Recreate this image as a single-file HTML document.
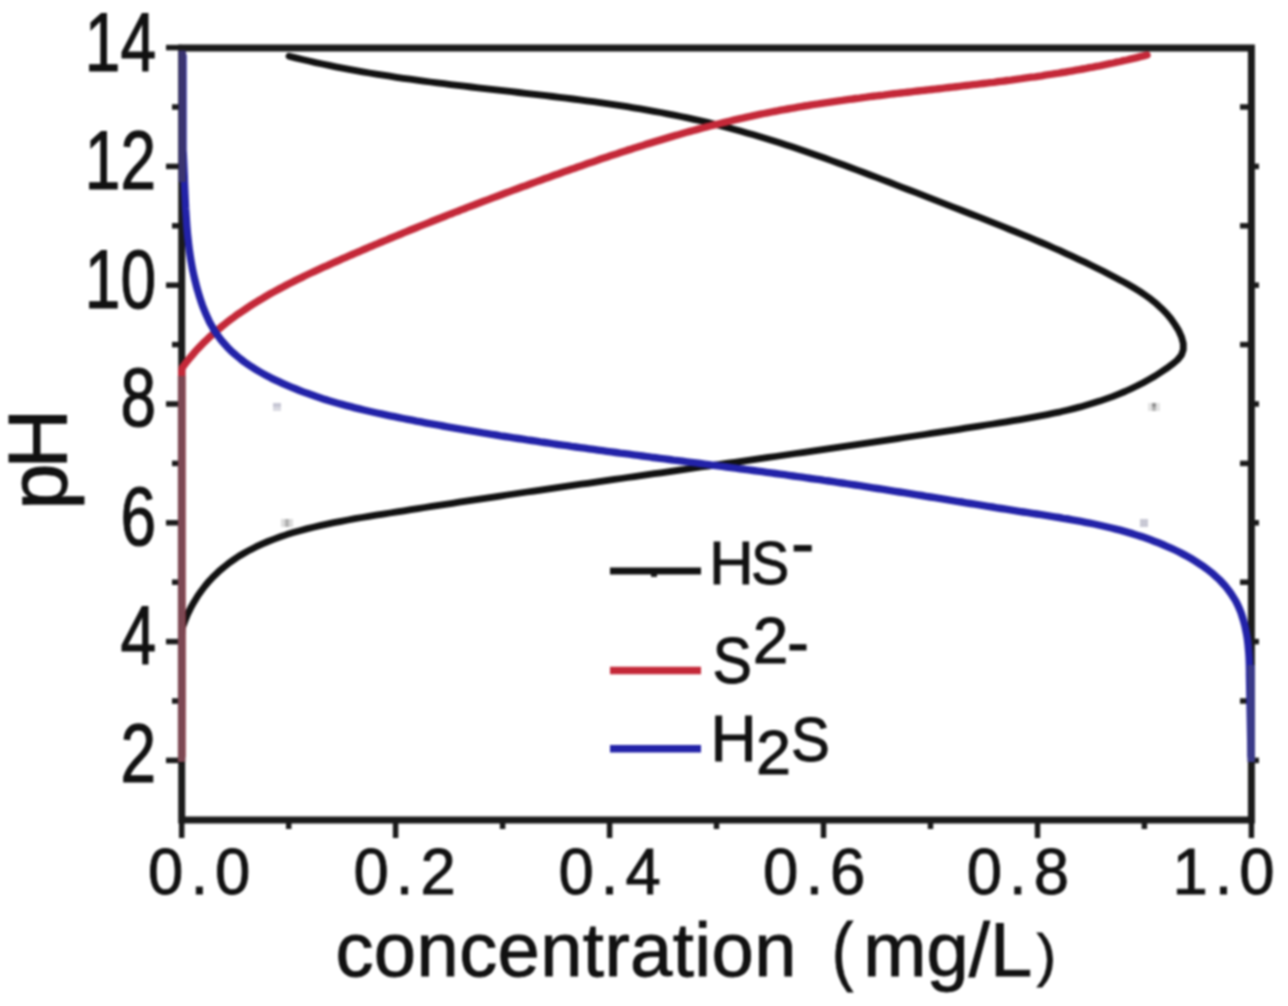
<!DOCTYPE html>
<html><head><meta charset="utf-8"><title>pH vs concentration</title>
<style>
html,body{margin:0;padding:0;background:#fff;}
body{width:1288px;height:1006px;overflow:hidden;}
svg{display:block;filter:blur(0.9px);}
text{font-family:'Liberation Sans', Arial, sans-serif;fill:#111;stroke:#111;stroke-width:0.9px;}
</style></head>
<body>
<svg width="1288" height="1006" viewBox="0 0 1288 1006">
<rect x="0" y="0" width="1288" height="1006" fill="#fff"/>
<g stroke="#1a1a1a" stroke-width="7" fill="none">
<rect x="181.7" y="48" width="1069.7" height="772"/>
</g>
<g stroke="#1a1a1a" stroke-width="5.5" fill="none">
<line x1="166.0" y1="760.4" x2="182.0" y2="760.4"/><line x1="172.0" y1="701.0" x2="182.0" y2="701.0"/><line x1="166.0" y1="641.6" x2="182.0" y2="641.6"/><line x1="172.0" y1="582.2" x2="182.0" y2="582.2"/><line x1="166.0" y1="522.8" x2="182.0" y2="522.8"/><line x1="172.0" y1="463.4" x2="182.0" y2="463.4"/><line x1="166.0" y1="404.0" x2="182.0" y2="404.0"/><line x1="172.0" y1="344.6" x2="182.0" y2="344.6"/><line x1="166.0" y1="285.2" x2="182.0" y2="285.2"/><line x1="172.0" y1="225.8" x2="182.0" y2="225.8"/><line x1="166.0" y1="166.4" x2="182.0" y2="166.4"/><line x1="172.0" y1="107.0" x2="182.0" y2="107.0"/><line x1="166.0" y1="47.6" x2="182.0" y2="47.6"/><line x1="181.7" y1="820.0" x2="181.7" y2="838.0"/><line x1="288.7" y1="820.0" x2="288.7" y2="829.0"/><line x1="395.6" y1="820.0" x2="395.6" y2="838.0"/><line x1="502.6" y1="820.0" x2="502.6" y2="829.0"/><line x1="609.6" y1="820.0" x2="609.6" y2="838.0"/><line x1="716.5" y1="820.0" x2="716.5" y2="829.0"/><line x1="823.5" y1="820.0" x2="823.5" y2="838.0"/><line x1="930.5" y1="820.0" x2="930.5" y2="829.0"/><line x1="1037.5" y1="820.0" x2="1037.5" y2="838.0"/><line x1="1144.4" y1="820.0" x2="1144.4" y2="829.0"/><line x1="1251.4" y1="820.0" x2="1251.4" y2="838.0"/><line x1="1251.0" y1="760.4" x2="1259.0" y2="760.4"/><line x1="1240.0" y1="701.0" x2="1251.0" y2="701.0"/><line x1="1251.0" y1="641.6" x2="1259.0" y2="641.6"/><line x1="1240.0" y1="582.2" x2="1251.0" y2="582.2"/><line x1="1251.0" y1="522.8" x2="1259.0" y2="522.8"/><line x1="1240.0" y1="463.4" x2="1251.0" y2="463.4"/><line x1="1251.0" y1="404.0" x2="1259.0" y2="404.0"/><line x1="1240.0" y1="344.6" x2="1251.0" y2="344.6"/><line x1="1251.0" y1="285.2" x2="1259.0" y2="285.2"/><line x1="1240.0" y1="225.8" x2="1251.0" y2="225.8"/><line x1="1251.0" y1="166.4" x2="1259.0" y2="166.4"/><line x1="1240.0" y1="107.0" x2="1251.0" y2="107.0"/>
</g>
<g fill="none" stroke-width="6.8" stroke-linejoin="round" stroke-linecap="round">
<path d="M289.0,56.2 295.6,57.9 302.3,59.5 309.0,61.0 315.7,62.6 322.4,64.0 329.1,65.4 335.8,66.8 342.5,68.1 349.2,69.4 356.0,70.6 362.7,71.8 369.5,73.0 376.2,74.1 383.0,75.2 389.7,76.2 396.5,77.3 403.3,78.3 410.1,79.2 416.8,80.2 423.6,81.1 430.4,82.0 437.2,82.9 444.0,83.7 450.8,84.6 457.6,85.4 464.4,86.2 471.2,87.0 478.0,87.8 484.8,88.6 491.6,89.4 498.4,90.2 505.2,90.9 512.0,91.7 518.8,92.5 525.6,93.3 532.4,94.1 539.2,94.9 545.9,95.7 552.7,96.5 559.5,97.3 566.3,98.2 573.1,99.0 579.8,99.9 586.6,100.8 593.4,101.7 600.1,102.7 606.9,103.6 613.6,104.6 620.4,105.7 627.1,106.7 633.8,107.8 640.6,108.9 647.3,110.1 654.0,111.3 660.7,112.5 667.4,113.8 674.1,115.1 680.7,116.5 687.4,117.9 694.0,119.3 700.7,120.8 707.3,122.4 713.9,124.0 720.6,125.7 727.2,127.4 733.8,129.2 740.3,131.0 746.9,132.9 753.5,134.8 760.0,136.7 766.6,138.7 773.1,140.8 779.6,142.8 786.2,145.0 792.7,147.1 799.2,149.3 805.7,151.5 812.1,153.7 818.6,156.0 825.1,158.3 831.5,160.6 838.0,163.0 844.4,165.3 850.9,167.7 857.3,170.1 863.7,172.5 870.1,175.0 876.6,177.4 883.0,179.9 889.4,182.3 895.8,184.8 902.1,187.3 908.5,189.7 914.9,192.2 921.3,194.7 927.6,197.2 934.0,199.7 940.4,202.1 946.7,204.6 953.1,207.1 959.4,209.5 965.7,212.0 972.1,214.5 978.4,216.9 984.7,219.4 991.0,221.9 997.3,224.4 1003.6,226.9 1009.9,229.5 1016.2,232.0 1022.5,234.6 1028.7,237.2 1035.0,239.9 1041.3,242.5 1047.5,245.2 1053.7,248.0 1060.0,250.7 1066.2,253.6 1072.4,256.4 1078.6,259.3 1084.8,262.2 1091.0,265.2 1097.1,268.3 1103.3,271.3 1109.4,274.5 1115.6,277.7 1121.7,280.9 1127.8,284.3 1133.8,287.8 1139.7,291.4 1145.4,295.3 1151.0,299.3 1156.4,303.7 1161.5,308.4 1166.4,313.4 1170.9,318.8 1175.0,324.6 1178.8,330.8 1181.6,337.2 1183.3,343.6 1183.3,349.6 1181.4,355.1 1177.4,360.0 1172.2,364.3 1166.6,368.4 1160.8,372.3 1155.1,376.0 1149.2,379.4 1143.2,382.7 1137.2,385.8 1131.1,388.7 1125.0,391.5 1118.7,394.1 1112.5,396.6 1106.1,398.9 1099.7,401.1 1093.3,403.1 1086.8,405.0 1080.3,406.9 1073.7,408.6 1067.1,410.2 1060.5,411.8 1053.8,413.2 1047.1,414.6 1040.3,415.9 1033.6,417.2 1026.8,418.4 1020.0,419.6 1013.2,420.7 1006.4,421.8 999.6,422.9 992.8,424.0 986.0,425.0 979.2,426.1 972.3,427.1 965.5,428.2 958.7,429.3 951.9,430.3 945.1,431.3 938.3,432.4 931.4,433.4 924.6,434.5 917.8,435.5 911.0,436.5 904.2,437.5 897.4,438.6 890.6,439.6 883.8,440.6 877.0,441.6 870.2,442.6 863.4,443.6 856.6,444.6 849.8,445.6 843.0,446.6 836.2,447.6 829.4,448.6 822.6,449.6 815.8,450.6 809.1,451.6 802.3,452.6 795.5,453.5 788.8,454.5 782.0,455.5 775.2,456.5 768.5,457.4 761.7,458.4 755.0,459.4 748.3,460.3 741.5,461.3 734.8,462.3 728.1,463.2 721.4,464.2 714.6,465.1 707.9,466.1 701.2,467.0 694.5,468.0 687.8,469.0 681.1,469.9 674.5,470.9 667.8,471.8 661.1,472.8 654.4,473.7 647.7,474.7 641.0,475.6 634.4,476.6 627.7,477.5 621.0,478.5 614.3,479.4 607.6,480.4 600.9,481.3 594.3,482.3 587.6,483.3 580.9,484.2 574.2,485.2 567.5,486.2 560.7,487.1 554.0,488.1 547.3,489.1 540.6,490.1 533.8,491.1 527.1,492.0 520.3,493.0 513.6,494.0 506.8,495.0 500.0,496.1 493.3,497.1 486.5,498.1 479.7,499.1 472.8,500.1 466.0,501.2 459.2,502.2 452.3,503.3 445.4,504.3 438.6,505.4 431.7,506.4 424.8,507.5 417.8,508.6 410.9,509.7 404.0,510.8 397.0,511.9 390.0,513.0 383.0,514.1 376.0,515.2 368.9,516.4 361.9,517.5 354.9,518.7 347.9,520.0 340.9,521.3 333.9,522.6 327.0,524.1 320.1,525.6 313.3,527.2 306.6,528.9 299.9,530.7 293.3,532.6 286.8,534.6 280.4,536.8 274.1,539.1 267.9,541.5 261.8,544.1 255.8,546.9 250.0,549.9 244.4,553.0 238.8,556.3 233.5,559.9 228.3,563.6 223.3,567.6 218.5,571.7 213.8,576.2 209.4,580.8 205.2,585.8 201.2,591.0 197.4,596.4 193.9,602.2 190.6,608.2 187.5,614.5 184.8,621.2 182.2,628.1 181.8,635.4 181.8,700.0 181.5,760.0" stroke="#111111"/>
<path d="M1147.0,55.0 1143.7,55.9 1140.3,56.7 1136.9,57.6 1133.6,58.4 1130.2,59.2 1126.8,60.0 1123.4,60.7 1120.1,61.5 1116.7,62.2 1113.3,63.0 1109.9,63.7 1106.5,64.4 1103.1,65.1 1099.7,65.8 1096.3,66.4 1092.9,67.1 1089.5,67.7 1086.1,68.4 1082.7,69.0 1079.3,69.6 1075.9,70.2 1072.5,70.8 1069.1,71.4 1065.7,72.0 1062.3,72.5 1058.9,73.1 1055.4,73.6 1052.0,74.2 1048.6,74.7 1045.2,75.2 1041.8,75.8 1038.3,76.3 1034.9,76.8 1031.5,77.2 1028.0,77.7 1024.6,78.2 1021.2,78.7 1017.8,79.1 1014.3,79.6 1010.9,80.1 1007.4,80.5 1004.0,81.0 1000.6,81.4 997.1,81.8 993.7,82.3 990.3,82.7 986.8,83.1 983.4,83.5 979.9,83.9 976.5,84.3 973.1,84.7 969.6,85.1 966.2,85.5 962.7,85.9 959.3,86.3 955.8,86.7 952.4,87.1 948.9,87.5 945.5,87.9 942.1,88.3 938.6,88.7 935.2,89.1 931.7,89.5 928.3,89.9 924.8,90.3 921.4,90.6 917.9,91.0 914.5,91.4 911.1,91.8 907.6,92.2 904.2,92.6 900.7,93.0 897.3,93.4 893.8,93.8 890.4,94.2 887.0,94.6 883.5,95.1 880.1,95.5 876.7,95.9 873.2,96.3 869.8,96.7 866.3,97.2 862.9,97.6 859.5,98.1 856.0,98.5 852.6,99.0 849.2,99.4 845.8,99.9 842.3,100.4 838.9,100.8 835.5,101.3 832.1,101.8 828.6,102.3 825.2,102.8 821.8,103.3 818.4,103.9 815.0,104.4 811.5,104.9 808.1,105.5 804.7,106.0 801.3,106.6 797.9,107.2 794.5,107.8 791.1,108.4 787.7,109.0 784.3,109.6 780.9,110.2 777.5,110.9 774.1,111.5 770.7,112.2 767.3,112.8 763.9,113.5 760.5,114.2 757.2,114.9 753.8,115.6 750.4,116.4 747.0,117.1 743.7,117.9 740.3,118.6 736.9,119.4 733.6,120.2 730.2,121.0 726.8,121.8 723.5,122.6 720.1,123.5 716.8,124.3 713.4,125.2 710.1,126.0 706.7,126.9 703.4,127.8 700.0,128.7 696.7,129.6 693.3,130.5 690.0,131.4 686.7,132.3 683.3,133.3 680.0,134.2 676.7,135.2 673.3,136.1 670.0,137.1 666.7,138.1 663.4,139.1 660.1,140.1 656.7,141.1 653.4,142.1 650.1,143.1 646.8,144.1 643.5,145.2 640.2,146.2 636.9,147.3 633.6,148.3 630.3,149.4 627.0,150.4 623.7,151.5 620.4,152.6 617.1,153.7 613.8,154.7 610.5,155.8 607.2,156.9 603.9,158.0 600.7,159.1 597.4,160.3 594.1,161.4 590.8,162.5 587.6,163.6 584.3,164.8 581.0,165.9 577.7,167.0 574.5,168.2 571.2,169.3 567.9,170.5 564.7,171.6 561.4,172.8 558.2,173.9 554.9,175.1 551.6,176.3 548.4,177.4 545.1,178.6 541.9,179.8 538.6,180.9 535.4,182.1 532.1,183.3 528.9,184.5 525.7,185.7 522.4,186.8 519.2,188.0 515.9,189.2 512.7,190.4 509.5,191.6 506.2,192.8 503.0,194.0 499.8,195.2 496.5,196.4 493.3,197.6 490.1,198.9 486.9,200.1 483.6,201.3 480.4,202.5 477.2,203.7 474.0,205.0 470.7,206.2 467.5,207.4 464.3,208.7 461.1,209.9 457.9,211.2 454.7,212.4 451.4,213.7 448.2,214.9 445.0,216.2 441.8,217.5 438.6,218.7 435.4,220.0 432.2,221.3 429.0,222.6 425.8,223.9 422.6,225.1 419.4,226.4 416.2,227.7 413.0,229.0 409.8,230.3 406.6,231.6 403.4,232.9 400.2,234.3 397.0,235.6 393.8,236.9 390.6,238.2 387.4,239.6 384.2,240.9 381.0,242.2 377.8,243.6 374.6,244.9 371.4,246.3 368.2,247.6 365.0,249.0 361.8,250.4 358.6,251.8 355.4,253.1 352.2,254.5 349.0,255.9 345.8,257.3 342.6,258.7 339.5,260.1 336.3,261.5 333.1,262.9 329.9,264.3 326.7,265.8 323.5,267.2 320.4,268.6 317.2,270.1 314.0,271.6 310.9,273.0 307.7,274.5 304.6,276.0 301.5,277.6 298.3,279.1 295.2,280.6 292.1,282.2 289.0,283.8 285.9,285.4 282.9,287.0 279.8,288.6 276.8,290.2 273.8,291.9 270.7,293.6 267.7,295.3 264.8,297.0 261.8,298.8 258.9,300.5 255.9,302.3 253.0,304.2 250.1,306.0 247.3,307.9 244.4,309.8 241.6,311.7 238.8,313.6 236.0,315.6 233.3,317.6 230.5,319.6 227.8,321.7 225.1,323.8 222.5,325.9 219.9,328.1 217.3,330.3 214.7,332.5 212.2,334.7 209.6,337.0 207.2,339.4 204.7,341.7 202.3,344.1 199.9,346.6 197.6,349.1 195.3,351.6 193.0,354.2 190.8,356.8 188.6,359.4 186.5,362.1 184.4,364.9 182.3,367.7 181.8,370.5 181.8,400.0 181.8,756.0" stroke="#c42838" stroke-width="7.4"/>
<path d="M183.0,56.0 183.0,150.0 183.3,154.5 183.5,159.0 183.7,163.4 183.9,167.9 184.1,172.4 184.3,176.9 184.4,181.3 184.6,185.8 184.8,190.3 185.0,194.8 185.2,199.2 185.4,203.7 185.6,208.2 185.9,212.6 186.2,217.1 186.5,221.6 186.8,226.0 187.2,230.5 187.6,234.9 188.1,239.4 188.6,243.8 189.1,248.2 189.7,252.7 190.4,257.1 191.1,261.5 191.9,265.9 192.7,270.3 193.7,274.7 194.7,279.1 195.8,283.5 196.9,287.9 198.2,292.3 199.5,296.6 200.9,301.0 202.4,305.3 204.1,309.6 205.8,313.8 207.7,318.0 209.6,322.1 211.8,326.0 214.0,329.9 216.4,333.6 219.0,337.2 221.7,340.7 224.6,344.0 227.5,347.3 230.6,350.4 233.9,353.4 237.2,356.2 240.6,359.0 244.1,361.7 247.7,364.2 251.4,366.7 255.2,369.1 259.0,371.4 262.9,373.6 266.8,375.7 270.8,377.8 274.9,379.8 278.9,381.7 283.0,383.6 287.1,385.4 291.2,387.1 295.4,388.8 299.5,390.5 303.7,392.1 307.9,393.6 312.1,395.1 316.3,396.6 320.6,398.0 324.8,399.4 329.1,400.7 333.4,402.0 337.7,403.2 342.0,404.4 346.4,405.6 350.7,406.7 355.0,407.8 359.4,408.9 363.8,410.0 368.1,411.0 372.5,412.0 376.9,413.0 381.3,413.9 385.7,414.9 390.1,415.8 394.5,416.7 398.9,417.6 403.3,418.5 407.7,419.4 412.1,420.2 416.5,421.1 421.0,421.9 425.4,422.8 429.8,423.6 434.2,424.4 438.6,425.2 443.0,426.0 447.5,426.8 451.9,427.6 456.3,428.4 460.7,429.1 465.1,429.9 469.6,430.7 474.0,431.4 478.4,432.1 482.8,432.9 487.3,433.6 491.7,434.3 496.1,435.0 500.5,435.8 505.0,436.5 509.4,437.1 513.8,437.8 518.3,438.5 522.7,439.2 527.1,439.9 531.6,440.5 536.0,441.2 540.4,441.9 544.8,442.5 549.3,443.2 553.7,443.8 558.1,444.5 562.6,445.1 567.0,445.7 571.4,446.4 575.9,447.0 580.3,447.6 584.8,448.2 589.2,448.8 593.6,449.4 598.1,450.1 602.5,450.7 606.9,451.3 611.4,451.9 615.8,452.5 620.2,453.1 624.7,453.6 629.1,454.2 633.6,454.8 638.0,455.4 642.4,456.0 646.9,456.6 651.3,457.2 655.7,457.7 660.2,458.3 664.6,458.9 669.1,459.5 673.5,460.1 677.9,460.6 682.4,461.2 686.8,461.8 691.3,462.4 695.7,462.9 700.1,463.5 704.6,464.1 709.0,464.7 713.4,465.3 717.9,465.8 722.3,466.4 726.8,467.0 731.2,467.6 735.6,468.2 740.1,468.8 744.5,469.3 748.9,469.9 753.4,470.5 757.8,471.1 762.2,471.7 766.7,472.3 771.1,472.9 775.5,473.5 780.0,474.1 784.4,474.7 788.8,475.3 793.3,476.0 797.7,476.6 802.1,477.2 806.6,477.8 811.0,478.5 815.4,479.1 819.9,479.7 824.3,480.4 828.7,481.0 833.2,481.7 837.6,482.3 842.0,483.0 846.4,483.7 850.9,484.3 855.3,485.0 859.7,485.7 864.1,486.4 868.6,487.1 873.0,487.8 877.4,488.5 881.8,489.2 886.3,489.9 890.7,490.6 895.1,491.3 899.5,492.0 903.9,492.7 908.4,493.4 912.8,494.1 917.2,494.8 921.6,495.5 926.1,496.3 930.5,497.0 934.9,497.7 939.3,498.4 943.8,499.1 948.2,499.9 952.6,500.6 957.0,501.3 961.5,502.0 965.9,502.8 970.3,503.5 974.7,504.2 979.2,504.9 983.6,505.6 988.0,506.3 992.4,507.0 996.9,507.8 1001.3,508.5 1005.7,509.2 1010.2,509.9 1014.6,510.6 1019.0,511.3 1023.5,512.0 1027.9,512.6 1032.3,513.3 1036.8,514.0 1041.2,514.7 1045.6,515.4 1050.1,516.1 1054.5,516.8 1058.9,517.5 1063.3,518.3 1067.8,519.0 1072.2,519.8 1076.6,520.6 1081.0,521.4 1085.4,522.3 1089.7,523.1 1094.1,524.0 1098.5,525.0 1102.9,526.0 1107.2,527.0 1111.5,528.0 1115.9,529.1 1120.2,530.2 1124.5,531.4 1128.8,532.6 1133.1,533.9 1137.3,535.3 1141.6,536.6 1145.8,538.1 1150.0,539.6 1154.2,541.2 1158.4,542.8 1162.6,544.5 1166.7,546.3 1170.9,548.1 1175.0,550.0 1179.1,552.0 1183.1,554.1 1187.1,556.3 1191.1,558.5 1194.9,560.8 1198.7,563.3 1202.5,565.8 1206.1,568.4 1209.6,571.1 1213.1,573.9 1216.4,576.9 1219.6,579.9 1222.6,583.1 1225.5,586.3 1228.2,589.7 1230.8,593.2 1233.2,596.9 1235.5,600.6 1237.5,604.5 1239.3,608.6 1241.0,612.7 1242.4,617.0 1243.7,621.3 1244.9,625.7 1245.8,630.2 1246.7,634.7 1247.4,639.3 1248.0,643.9 1248.4,648.4 1248.8,653.0 1249.1,657.5 1249.3,662.0 1249.4,666.4 1249.5,670.8 1249.5,675.0 1251.0,756.0" stroke="#2222a8" stroke-width="7.4"/>
<path d="M181.6,376 L181.6,762" stroke="#7c4752" stroke-width="7.5" stroke-linecap="butt"/>
<path d="M182.2,50.5 L182.2,182" stroke="#3a3470" stroke-width="7.5" stroke-linecap="butt"/>
<path d="M1251.2,665 L1251.2,762" stroke="#3a3a88" stroke-width="7.5" stroke-linecap="butt"/>
</g>
<g stroke="none">
<rect x="273" y="403" width="8" height="4" fill="#c6c6d4"/><rect x="273" y="407" width="8" height="4" fill="#dadae2"/>
<rect x="281" y="519" width="12" height="8" fill="#dcdcdc"/><rect x="285" y="519" width="4" height="8" fill="#b0b0b0"/>
<rect x="1148" y="403" width="12" height="8" fill="#e4e4e4"/><rect x="1152" y="403" width="4" height="4" fill="#909090"/><rect x="1152" y="407" width="4" height="4" fill="#b4b4b4"/>
<rect x="1140" y="519" width="8" height="8" fill="#c8c8d4"/>
<rect x="651" y="572" width="6" height="5" fill="#222"/>
</g>
<g font-size="64" text-anchor="end"><text transform="translate(156.0 782.4) scale(1.000 1.300)" x="0" y="0">2</text><text transform="translate(156.0 663.6) scale(1.000 1.300)" x="0" y="0">4</text><text transform="translate(156.0 544.8) scale(1.000 1.300)" x="0" y="0">6</text><text transform="translate(156.0 426.0) scale(1.000 1.300)" x="0" y="0">8</text><text transform="translate(156.0 308.2) scale(1.000 1.300)" x="0" y="0">10</text><text transform="translate(156.0 189.4) scale(1.000 1.300)" x="0" y="0">12</text><text transform="translate(156.0 71.4) scale(1.000 1.300)" x="0" y="0">14</text></g>
<g font-size="63.5"><text transform="translate(148.1 894.3) scale(1.000 1.035)" x="0" y="0" letter-spacing="7.0">0.0</text><text transform="translate(353.5 894.3) scale(1.000 1.035)" x="0" y="0" letter-spacing="7.0">0.2</text><text transform="translate(558.5 894.3) scale(1.000 1.035)" x="0" y="0" letter-spacing="7.0">0.4</text><text transform="translate(763.1 894.3) scale(1.000 1.035)" x="0" y="0" letter-spacing="7.0">0.6</text><text transform="translate(966.7 894.3) scale(1.000 1.035)" x="0" y="0" letter-spacing="7.0">0.8</text><text transform="translate(1172.4 894.3) scale(1.000 1.035)" x="0" y="0" letter-spacing="7.0">1.0</text></g>
<text transform="translate(67 509.8) rotate(-90) scale(1.04 1.041)" x="0" y="0" font-size="80" letter-spacing="-5">pH</text><text x="335.4" y="976.2" font-size="76.0" letter-spacing="0.4">concentration</text><text transform="translate(831.7 976.0) scale(0.850 1.000)" x="0" y="0" font-size="76.0">(</text><text x="863.3" y="976.2" font-size="76.0">mg/L</text><text x="1036.7" y="975.3" font-size="58.0">)</text>
<g stroke-width="6.8" fill="none">
<line x1="610" y1="571" x2="701" y2="571" stroke="#111111"/>
<line x1="610" y1="670.5" x2="701" y2="670.5" stroke="#c42838" stroke-width="7.4"/>
<line x1="610" y1="748.8" x2="701" y2="748.8" stroke="#2222a8" stroke-width="7.4"/>
</g>
<g><text x="709.0" y="584.0" font-size="62.0">H</text><text transform="translate(750.9 584.0) scale(0.925 1.000)" x="0" y="0" font-size="62.0">S</text><text x="790.9" y="566.6" font-size="70.0">-</text><text transform="translate(712.4 683.0) scale(0.925 1.000)" x="0" y="0" font-size="64.0">S</text><text x="752.8" y="662.5" font-size="64.0">2</text><text x="787.1" y="664.5" font-size="66.0">-</text><text x="710.6" y="760.9" font-size="64.0">H</text><text x="756.0" y="773.9" font-size="63.0">2</text><text transform="translate(790.9 760.5) scale(0.925 1.000)" x="0" y="0" font-size="63.0">S</text></g>
</svg>
</body></html>
